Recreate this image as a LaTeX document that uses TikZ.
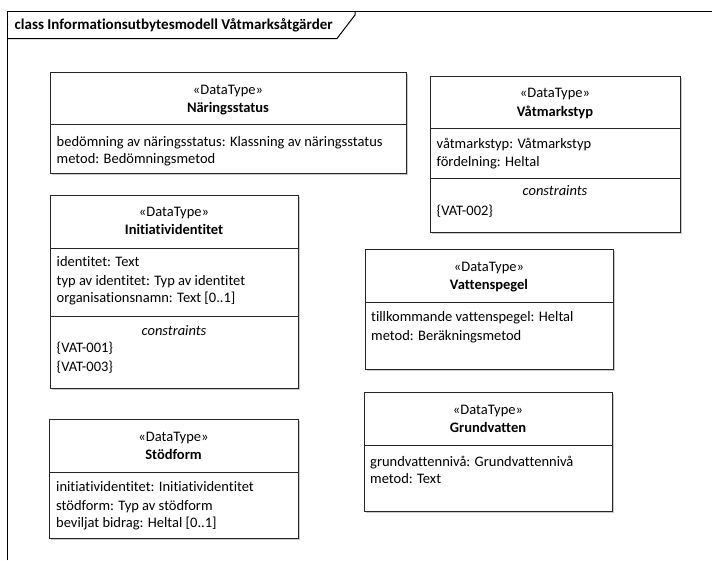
\documentclass[tikz,border=0pt]{standalone}
\usepackage{fontspec}
\setmainfont[Ligatures={NoCommon}]{Carlito}
\usepackage{xcolor}
\usetikzlibrary{shadows}

\tikzset{
	umlbox/.style = {draw=black!85, line width=1pt, fill=white,
		drop shadow={shadow xshift=1.5pt, shadow yshift=-1.5pt, fill=black!35, opacity=0.6}},
	umlsep/.style = {draw=black!85, line width=1pt},
	stereo/.style = {anchor=base, inner sep=0pt, font=\fontsize{14.5}{16}\selectfont},
	cname/.style = {anchor=base, inner sep=0pt, font=\fontsize{14.5}{16}\selectfont\bfseries},
	attr/.style = {anchor=base west, inner sep=0pt, font=\fontsize{14.5}{16}\selectfont},
	cons/.style = {anchor=base, inner sep=0pt, font=\fontsize{14.5}{16}\selectfont\itshape}
}

\begin{document}
\begin{tikzpicture}
	\useasboundingbox (0pt, 0pt) rectangle (712pt, -560pt);
	% frame
	\draw[line width=1pt] (7pt, -560pt) -- (7pt, -11.5pt) -- (712pt, -11.5pt);
	\draw[line width=1pt] (7pt, -38.5pt) -- (337pt, -38.5pt) -- (355pt, -15pt) -- (355pt, -11.5pt);
	\node[attr, font=\fontsize{15}{17}\selectfont\bfseries] (title) at (14.5pt, -29.5pt) {class Informationsutbytesmodell Våtmarksåtgärder};

	% Näringsstatus
	\draw[umlbox] (50pt, -72pt) rectangle (406pt, -173pt);
	\draw[umlsep] (50pt, -124pt) -- (406pt, -124pt);
	\node[stereo] (narSt) at (228pt, -94.5pt) {«DataType»};
	\node[cname] (narName) at (228pt, -112.5pt) {Näringsstatus};
	\node[attr] (narA1) at (56.5pt, -146pt) {bedömning av näringsstatus: Klassning av näringsstatus};
	\node[attr] (narA2) at (56.5pt, -163.5pt) {metod: Bedömningsmetod};

	% Våtmarkstyp
	\draw[umlbox] (430pt, -76pt) rectangle (680pt, -232pt);
	\draw[umlsep] (430pt, -128pt) -- (680pt, -128pt);
	\draw[umlsep] (430pt, -178pt) -- (680pt, -178pt);
	\node[stereo] (vatSt) at (555pt, -97.5pt) {«DataType»};
	\node[cname] (vatName) at (555pt, -116pt) {Våtmarkstyp};
	\node[attr] (vatA1) at (436.5pt, -148.5pt) {våtmarkstyp: Våtmarkstyp};
	\node[attr] (vatA2) at (436.5pt, -166pt) {fördelning: Heltal};
	\node[cons] (vatCons) at (555pt, -195.5pt) {constraints};
	\node[attr] (vatC1) at (436.5pt, -215.5pt) {\{VAT-002\}};

	% Initiatividentitet
	\draw[umlbox] (50pt, -195pt) rectangle (298pt, -388pt);
	\draw[umlsep] (50pt, -248pt) -- (298pt, -248pt);
	\draw[umlsep] (50pt, -316pt) -- (298pt, -316pt);
	\node[stereo] (iniSt) at (174pt, -216pt) {«DataType»};
	\node[cname] (iniName) at (174pt, -234.5pt) {Initiatividentitet};
	\node[attr] (iniA1) at (56.5pt, -266.5pt) {identitet: Text};
	\node[attr] (iniA2) at (56.5pt, -285pt) {typ av identitet: Typ av identitet};
	\node[attr] (iniA3) at (56.5pt, -302.5pt) {organisationsnamn: Text [0..1]};
	\node[cons] (iniCons) at (174pt, -335pt) {constraints};
	\node[attr] (iniC1) at (56.5pt, -352.5pt) {\{VAT-001\}};
	\node[attr] (iniC2) at (56.5pt, -371pt) {\{VAT-003\}};

	% Vattenspegel
	\draw[umlbox] (365pt, -249pt) rectangle (613pt, -369pt);
	\draw[umlsep] (365pt, -302pt) -- (613pt, -302pt);
	\node[stereo] (spgSt) at (489pt, -271pt) {«DataType»};
	\node[cname] (spgName) at (489pt, -289.5pt) {Vattenspegel};
	\node[attr] (spgA1) at (371pt, -321.5pt) {tillkommande vattenspegel: Heltal};
	\node[attr] (spgA2) at (371pt, -340pt) {metod: Beräkningsmetod};

	% Stödform
	\draw[umlbox] (49pt, -419pt) rectangle (298pt, -538pt);
	\draw[umlsep] (49pt, -472pt) -- (298pt, -472pt);
	\node[stereo] (stdSt) at (173.5pt, -441pt) {«DataType»};
	\node[cname] (stdName) at (173.5pt, -459.5pt) {Stödform};
	\node[attr] (stdA1) at (56pt, -491.5pt) {initiatividentitet: Initiatividentitet};
	\node[attr] (stdA2) at (56pt, -510pt) {stödform: Typ av stödform};
	\node[attr] (stdA3) at (56pt, -527.5pt) {beviljat bidrag: Heltal [0..1]};

	% Grundvatten
	\draw[umlbox] (364pt, -392pt) rectangle (612pt, -511pt);
	\draw[umlsep] (364pt, -445pt) -- (612pt, -445pt);
	\node[stereo] (grvSt) at (488pt, -414.5pt) {«DataType»};
	\node[cname] (grvName) at (488pt, -432.5pt) {Grundvatten};
	\node[attr] (grvA1) at (370pt, -466pt) {grundvattennivå: Grundvattennivå};
	\node[attr] (grvA2) at (370pt, -483pt) {metod: Text};
\end{tikzpicture}
\end{document}
